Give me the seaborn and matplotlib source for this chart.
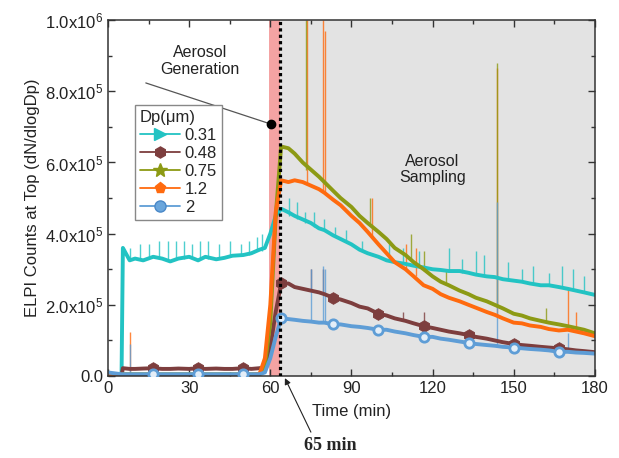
import numpy as np
import pandas as pd
import matplotlib
matplotlib.use('Agg')
import matplotlib.pyplot as plt
import matplotlib.ticker as ticker
from matplotlib.lines import Line2D
import seaborn as sns

# time axis (min), values in units of 1e5 dN/dlogDp
time = [0, 5, 5.5, 8, 10, 13, 16.7, 20, 23, 26,
        30, 33.3, 36, 40, 43, 46, 50, 53, 56, 58,
        60, 62, 64, 66.7, 69, 72, 75, 78, 80, 83.3,
        86, 90, 93, 96, 100, 103, 106, 110, 113, 116.7,
        120, 123, 126, 130, 133.3, 136, 140, 143, 146, 150,
        153, 156, 160, 163, 166.7, 170, 173, 176, 180]

dp_031 = [0, 0, 3.6, 3.25, 3.3, 3.25, 3.35, 3.3, 3.22, 3.3,
          3.35, 3.25, 3.35, 3.28, 3.32, 3.38, 3.4, 3.45, 3.55, 3.6,
          4.0, 4.5, 4.7, 4.6, 4.5, 4.4, 4.3, 4.15, 4.1, 3.95,
          3.85, 3.7, 3.55, 3.45, 3.35, 3.25, 3.2, 3.15, 3.1, 3.05,
          3.0, 2.98, 2.95, 2.95, 2.9, 2.85, 2.8, 2.78, 2.72, 2.68,
          2.65, 2.6, 2.55, 2.55, 2.5, 2.45, 2.4, 2.35, 2.28]
dp_048 = [0, 0, 0.22, 0.2, 0.2, 0.21, 0.22, 0.2, 0.2, 0.21,
          0.2, 0.22, 0.2, 0.21, 0.2, 0.2, 0.22, 0.2, 0.22, 0.25,
          0.8, 1.8, 2.6, 2.6, 2.5, 2.45, 2.4, 2.35, 2.3, 2.2,
          2.15, 2.05, 1.95, 1.9, 1.75, 1.7, 1.62, 1.55, 1.48, 1.4,
          1.35, 1.3, 1.25, 1.2, 1.15, 1.1, 1.05, 1.0, 0.95, 0.9,
          0.87, 0.85, 0.82, 0.8, 0.78, 0.75, 0.72, 0.7, 0.67]
dp_075 = [0, 0, 0.05, 0.05, 0.05, 0.05, 0.05, 0.05, 0.05, 0.05,
          0.05, 0.05, 0.05, 0.05, 0.05, 0.05, 0.05, 0.05, 0.05, 0.3,
          1.5, 4.5, 6.45, 6.4, 6.25, 6.0, 5.8, 5.6, 5.45, 5.2,
          5.0, 4.75, 4.5, 4.3, 4.05, 3.85, 3.6, 3.4, 3.2, 3.0,
          2.8, 2.65, 2.55, 2.4, 2.3, 2.2, 2.1, 2.0, 1.9, 1.75,
          1.7, 1.62, 1.55, 1.5, 1.45, 1.4, 1.35, 1.3, 1.2]
dp_12 = [0, 0, 0.03, 0.03, 0.03, 0.03, 0.03, 0.03, 0.03, 0.03,
         0.03, 0.03, 0.03, 0.03, 0.03, 0.03, 0.03, 0.03, 0.05, 0.5,
         2.0, 4.6, 5.5, 5.45, 5.5, 5.45, 5.35, 5.25, 5.15, 4.95,
         4.8, 4.5, 4.3, 4.05, 3.7, 3.45, 3.2, 3.0, 2.8, 2.55,
         2.45, 2.3, 2.2, 2.1, 2.0, 1.92, 1.8, 1.72, 1.62, 1.5,
         1.48, 1.42, 1.38, 1.32, 1.28, 1.3, 1.25, 1.2, 1.12]
dp_2 = [0.1, 0.05, 0.05, 0.05, 0.05, 0.05, 0.05, 0.05, 0.05, 0.05,
        0.05, 0.05, 0.05, 0.05, 0.05, 0.05, 0.05, 0.05, 0.05, 0.1,
        0.5, 1.1, 1.62, 1.6, 1.58, 1.55, 1.53, 1.5, 1.5, 1.45,
        1.45, 1.4, 1.38, 1.35, 1.3, 1.3, 1.25, 1.2, 1.15, 1.1,
        1.1, 1.05, 1.02, 0.97, 0.93, 0.9, 0.87, 0.85, 0.82, 0.8,
        0.78, 0.76, 0.74, 0.72, 0.68, 0.68, 0.66, 0.65, 0.63]

dp_labels = ['0.31', '0.48', '0.75', '1.2', '2']
colors = ['#22c3c3', '#7d3e3e', '#8c9a14', '#ff6a0e', '#5e9dd6']
markers = ['>', 'h', '*', 'p', 'o']
marker_times = [16.7, 33.3, 50, 64, 83.3, 100, 116.7, 133.3, 150, 166.7]

# short spikes in the signal: series, time, low, high (x1e5)
spike_dp = ['0.31'] * 16 + ['0.31'] * 22 \
    + ['1.2'] * 10 + ['0.75'] * 7 + ['0.48'] * 4 + ['2'] * 7
spike_t = [8, 12, 15, 19, 22, 25, 28, 31, 34, 37, 41, 45, 49, 52, 55, 57,
           67, 70, 73, 76, 80, 84, 88, 94, 104, 109, 115, 126, 131, 136, 139,
           148, 153, 157, 163, 168, 172, 176,
           8, 73.5, 79.5, 80.3, 97.5, 110, 114, 144, 170, 173,
           73.3, 97, 112, 117, 125, 144, 162,
           75, 79.5, 109, 117,
           8, 75, 79.5, 80.3, 116.5, 144, 170]
spike_lo = [3.3, 3.3, 3.3, 3.3, 3.3, 3.3, 3.3, 3.3, 3.3, 3.3, 3.3, 3.4, 3.4, 3.4, 3.5, 3.5,
            4.5, 4.4, 4.3, 4.2, 4.1, 3.9, 3.8, 3.5, 3.25, 3.15, 3.05, 2.95, 2.9, 2.85, 2.8,
            2.7, 2.65, 2.6, 2.55, 2.5, 2.4, 2.35,
            0.0, 5.4, 5.2, 5.15, 3.9, 3.0, 2.8, 1.7, 1.3, 1.25,
            5.8, 4.3, 3.3, 2.95, 2.55, 1.95, 1.55,
            2.4, 2.3, 1.6, 1.4,
            0.0, 1.53, 1.5, 1.5, 1.1, 0.85, 0.68]
spike_hi = [3.6, 3.7, 3.7, 3.8, 3.8, 3.8, 3.8, 3.7, 3.8, 3.8, 3.7, 3.8, 3.7, 3.8, 3.9, 4.0,
            5.0, 4.9, 4.6, 4.6, 4.4, 4.2, 4.1, 3.8, 3.7, 3.6, 3.5, 3.6, 3.3, 3.5, 3.4,
            3.2, 3.0, 3.1, 2.9, 3.1, 3.0, 2.8,
            1.25, 10.0, 10.0, 9.7, 5.0, 3.7, 3.6, 8.65, 2.45, 1.8,
            10.0, 5.0, 4.0, 3.5, 3.0, 8.8, 1.9,
            3.0, 3.0, 1.8, 1.8,
            0.9, 3.0, 3.1, 3.0, 1.5, 4.9, 1.2]


def yfmt(v, pos):
    if abs(v) < 1:
        return '0.0'
    if v < 0:
        return ''
    e = int(np.floor(np.log10(v)))
    return f'{v / 10 ** e:.1f}x10$^{{{e}}}$'


def main():
    series = {'0.31': dp_031, '0.48': dp_048, '0.75': dp_075, '1.2': dp_12, '2': dp_2}
    df = pd.concat([pd.DataFrame({'time': time, 'value': np.array(v) * 1e5, 'Dp': k})
                    for k, v in series.items()], ignore_index=True)
    palette = dict(zip(dp_labels, colors))

    sns.set_style('ticks')
    plt.rcParams['font.family'] = ['Liberation Sans', 'DejaVu Sans']
    plt.rcParams['mathtext.default'] = 'regular'

    fig = plt.figure(figsize=(6.19, 4.58), dpi=100)
    ax = fig.add_axes([0.1745, 0.179, 0.7865, 0.777])

    # background phases
    ax.axvspan(63.5, 180, color='#e3e3e3', lw=0, zorder=0)
    ax.axvspan(59.5, 63.5, color='#f4a3a3', lw=0, zorder=0)

    # spikes
    ax.vlines(spike_t, np.array(spike_lo) * 1e5, np.array(spike_hi) * 1e5,
              colors=[palette[d] for d in spike_dp], lw=1.0, alpha=0.8, zorder=1.8)

    sns.lineplot(data=df, x='time', y='value', hue='Dp', palette=palette,
                 estimator=None, sort=False, lw=2.8, legend=False, ax=ax, zorder=2)

    mk = df[df['time'].isin(marker_times)]
    sns.scatterplot(data=mk[mk['Dp'] == '0.48'], x='time', y='value', marker='h', s=70,
                    color=colors[1], edgecolor=colors[1], legend=False, ax=ax, zorder=3)
    sns.scatterplot(data=mk[mk['Dp'] == '2'], x='time', y='value', marker='o', s=45,
                    color='#e4eef8', edgecolor=colors[4], linewidth=2, legend=False, ax=ax, zorder=3)

    ax.axvline(63.5, color='black', ls=(0, (1, 1)), lw=2.3, zorder=5)

    ax.set_xlim(0, 180)
    ax.set_ylim(0, 1e6)
    ax.xaxis.set_major_locator(ticker.MultipleLocator(30))
    ax.xaxis.set_minor_locator(ticker.MultipleLocator(15))
    ax.yaxis.set_major_locator(ticker.MultipleLocator(2e5))
    ax.yaxis.set_minor_locator(ticker.MultipleLocator(1e5))
    ax.yaxis.set_major_formatter(ticker.FuncFormatter(yfmt))
    ax.tick_params(which='both', direction='in', top=True, right=True,
                   labelsize=12, labelcolor='#222222', width=1, color='#333333')
    ax.tick_params(which='major', length=5)
    ax.tick_params(which='minor', length=3)
    for s in ax.spines.values():
        s.set_color('#333333')
        s.set_linewidth(1.1)

    ax.set_xlabel('Time (min)', fontsize=12, color='#222222', labelpad=6)
    ax.set_ylabel('ELPI Counts at Top (dN/dlogDp)', fontsize=12, color='#222222', labelpad=4)

    # annotations
    ax.text(34, 0.885e6, 'Aerosol\nGeneration', ha='center', va='center',
            fontsize=11.5, color='#222222', linespacing=1.1)
    ax.annotate('', xy=(60.2, 0.708e6), xytext=(13, 0.826e6),
                arrowprops=dict(arrowstyle='-', color='#555555', lw=0.9))
    ax.plot([60.2], [0.708e6], 'o', color='black', ms=6, zorder=6)
    ax.text(120, 0.58e6, 'Aerosol\nSampling', ha='center', va='center',
            fontsize=11.5, color='#222222', linespacing=1.1)
    ax.annotate('65 min', xy=(65.4, -0.006e6), xytext=(0.533, 0.028), textcoords='figure fraction',
                ha='center', va='center', fontsize=13, fontweight='bold',
                family=['Liberation Serif', 'DejaVu Serif'], annotation_clip=False,
                arrowprops=dict(arrowstyle='-|>', color='#222222', lw=0.8,
                                mutation_scale=9, relpos=(0.18, 1.0), shrinkA=1, shrinkB=0))

    handles = [Line2D([0], [0], color=c, marker=m, lw=1.3, ms=8 if m != '*' else 10,
                      markerfacecolor=c if l != '2' else '#6aa6dc',
                      markeredgecolor=c if l != '2' else '#4a88c8')
               for c, m, l in zip(colors, markers, dp_labels)]
    leg = ax.legend(handles, dp_labels, title='Dp(\u03bcm)', loc='upper left',
                    bbox_to_anchor=(0.055, 0.762), fontsize=12, title_fontsize=12,
                    frameon=True, fancybox=False, edgecolor='#888888', framealpha=1,
                    handlelength=2.4, handletextpad=0.3, labelspacing=0.18,
                    borderpad=0.3, borderaxespad=0)
    leg._legend_box.align = 'left'
    leg.get_frame().set_linewidth(1.0)

    fig.savefig('out.png', dpi=100)


if __name__ == "__main__":
    main()
